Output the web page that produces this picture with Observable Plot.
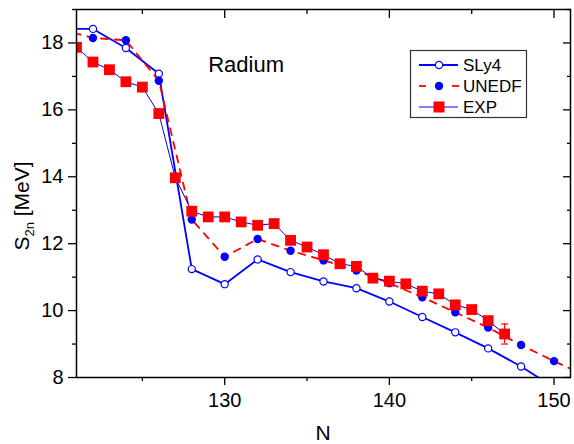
<!DOCTYPE html>
<html><head><meta charset="utf-8">
<script src="https://cdn.jsdelivr.net/npm/d3@7"></script>
<script src="https://cdn.jsdelivr.net/npm/@observablehq/plot@0.6"></script>
<style>
body{margin:0;background:#fff;}
#chart{width:574px;height:444px;}
</style>
</head><body><div id="chart"></div>
<script>
// ---- data ----
const slyN = [120,122,124,126,128,130,132,134,136,138,140,142,144,146,148,150];
const slyS = [18.42,18.42,17.85,17.08,11.24,10.79,11.53,11.15,10.87,10.67,10.27,9.81,9.35,8.87,8.33,7.70];

const unedfN = [120,122,124,126,128,130,132,134,136,138,140,142,144,146,148,150,152];
const unedfS = [18.40,18.15,18.08,16.87,12.72,11.61,12.14,11.79,11.50,11.20,10.82,10.40,9.95,9.49,8.97,8.49,8.03];

const expN = [121,122,123,124,125,126,127,128,129,130,131,132,133,134,135,136,137,138,139,140,141,142,143,144,145,146,147];
const expS = [17.87,17.43,17.20,16.84,16.68,15.89,13.97,12.97,12.80,12.80,12.65,12.55,12.60,12.10,11.90,11.67,11.40,11.32,10.97,10.88,10.80,10.58,10.50,10.17,10.03,9.70,9.30];
const expErr = [0,0,0,0,0,0,0,0,0,0,0,0,0,0,0,0,0,0,0,0,0,0,0,0,0,0,0.30];

const xMajor = [130,140,150];
const xMinor = [125,135,145];
const yMajor = [8,10,12,14,16,18];
const yMinor = [9,11,13,15,17,19];

const seriesNames = ["SLy4","UNEDF","EXP"];
const title = {text:"Radium", N:131.3, S:17.35};

// ---- tables ----
const sly = slyN.map((n,i)=>({N:n,S:slyS[i]}));
const unedf = unedfN.map((n,i)=>({N:n,S:unedfS[i]}));
const exp = expN.map((n,i)=>({N:n,S:expS[i],e:expErr[i]}));
const expE = exp.filter(d=>d.e>0);

const BLUE = "#0000ff", RED = "#ff0000";
const capSymbol = {draw(ctx, size){ const w = Math.sqrt(size)/2; ctx.moveTo(-w,0); ctx.lineTo(w,0); }};

const svg = Plot.plot({
  width: 574, height: 444,
  marginLeft: 76, marginRight: 4, marginTop: 9, marginBottom: 67,
  clip: true,
  x: {domain:[121,151]},
  y: {domain:[8,19]},
  style: {fontFamily:"'Liberation Sans', Arial, sans-serif", fontSize:"20px", background:"#fff", color:"#000"},
  marks: [
    // axes
    Plot.axisX({anchor:"bottom", ticks:xMajor, tickSize:8, tickPadding:7, fontSize:20, label:null, strokeWidth:1.3}),
    Plot.axisX({anchor:"bottom", ticks:xMinor, tickSize:4, text:null, label:null, strokeWidth:1.3}),
    Plot.axisX({anchor:"top", ticks:xMajor, tickSize:-8, text:null, label:null, strokeWidth:1.3}),
    Plot.axisX({anchor:"top", ticks:xMinor, tickSize:-4, text:null, label:null, strokeWidth:1.3}),
    Plot.axisY({anchor:"left", ticks:yMajor, tickSize:8, tickPadding:5, fontSize:20, label:null, strokeWidth:1.3}),
    Plot.axisY({anchor:"left", ticks:yMinor, tickSize:4, text:null, label:null, strokeWidth:1.3}),
    Plot.axisY({anchor:"right", ticks:yMajor, tickSize:-8, text:null, label:null, strokeWidth:1.3}),
    Plot.axisY({anchor:"right", ticks:yMinor, tickSize:-4, text:null, label:null, strokeWidth:1.3}),
    // SLy4
    Plot.line(sly, {x:"N", y:"S", stroke:BLUE, strokeWidth:1.8}),
    Plot.dot(sly, {x:"N", y:"S", r:3.6, fill:"#fff", stroke:BLUE, strokeWidth:1.2}),
    // UNEDF
    Plot.line(unedf, {x:"N", y:"S", stroke:RED, strokeWidth:1.8, strokeDasharray:"7,7"}),
    Plot.dot(unedf, {x:"N", y:"S", r:4.2, fill:BLUE}),
    // EXP
    Plot.line(exp, {x:"N", y:"S", stroke:BLUE, strokeWidth:1}),
    Plot.ruleX(expE, {x:"N", y1:d=>d.S-d.e, y2:d=>d.S+d.e, stroke:RED, strokeWidth:1.2}),
    Plot.dot(expE, {x:"N", y:d=>d.S-d.e, symbol:capSymbol, r:4, stroke:RED, strokeWidth:1.2, fill:"none"}),
    Plot.dot(expE, {x:"N", y:d=>d.S+d.e, symbol:capSymbol, r:4, stroke:RED, strokeWidth:1.2, fill:"none"}),
    Plot.dot(exp, {x:"N", y:"S", symbol:"square", r:6.1, fill:RED}),
    // annotation
    Plot.text([title], {x:"N", y:"S", text:"text", fontSize:22, fill:"#000"}),
    Plot.frame({stroke:"#000", strokeWidth:1.5})
  ]
});

const s = d3.select(svg);
const ff = "'Liberation Sans', Arial, sans-serif";
// axis titles
s.append("text").attr("x",323).attr("y",440).attr("text-anchor","middle")
  .attr("font-family",ff).attr("font-size",21).attr("fill","#000").text("N");
const yl = s.append("text").attr("transform","translate(29,206) rotate(-90)").attr("text-anchor","middle")
  .attr("font-family",ff).attr("font-size",21).attr("fill","#000");
yl.append("tspan").text("S");
yl.append("tspan").attr("font-size",13).attr("dy",5).text("2n");
yl.append("tspan").attr("dy",-5).text(" [MeV]");

// legend
const lg = s.append("g").attr("font-family",ff).attr("font-size",17).attr("text-anchor","start");
lg.append("rect").attr("x",410.5).attr("y",50.5).attr("width",116).attr("height",67)
  .attr("fill","#fff").attr("stroke","#333").attr("stroke-width",1.2);
const rows = [65,86,107];
// SLy4
lg.append("line").attr("x1",419).attr("x2",458).attr("y1",rows[0]).attr("y2",rows[0]).attr("stroke",BLUE).attr("stroke-width",1.8);
lg.append("circle").attr("cx",439).attr("cy",rows[0]).attr("r",3.6).attr("fill","#fff").attr("stroke",BLUE).attr("stroke-width",1.2);
// UNEDF
lg.append("line").attr("x1",419).attr("x2",426).attr("y1",rows[1]).attr("y2",rows[1]).attr("stroke",RED).attr("stroke-width",1.8);
lg.append("line").attr("x1",452).attr("x2",459).attr("y1",rows[1]).attr("y2",rows[1]).attr("stroke",RED).attr("stroke-width",1.8);
lg.append("circle").attr("cx",439).attr("cy",rows[1]).attr("r",4.2).attr("fill",BLUE);
// EXP
lg.append("line").attr("x1",419).attr("x2",458).attr("y1",rows[2]).attr("y2",rows[2]).attr("stroke",BLUE).attr("stroke-width",1);
lg.append("rect").attr("x",433.5).attr("y",rows[2]-5.5).attr("width",11).attr("height",11).attr("fill",RED);
seriesNames.forEach((n,i)=>{
  lg.append("text").attr("x",463).attr("y",rows[i]).attr("dy","0.36em").attr("fill","#000").attr("text-anchor","start").text(n);
});

document.getElementById("chart").appendChild(svg);
</script>
</body></html>
